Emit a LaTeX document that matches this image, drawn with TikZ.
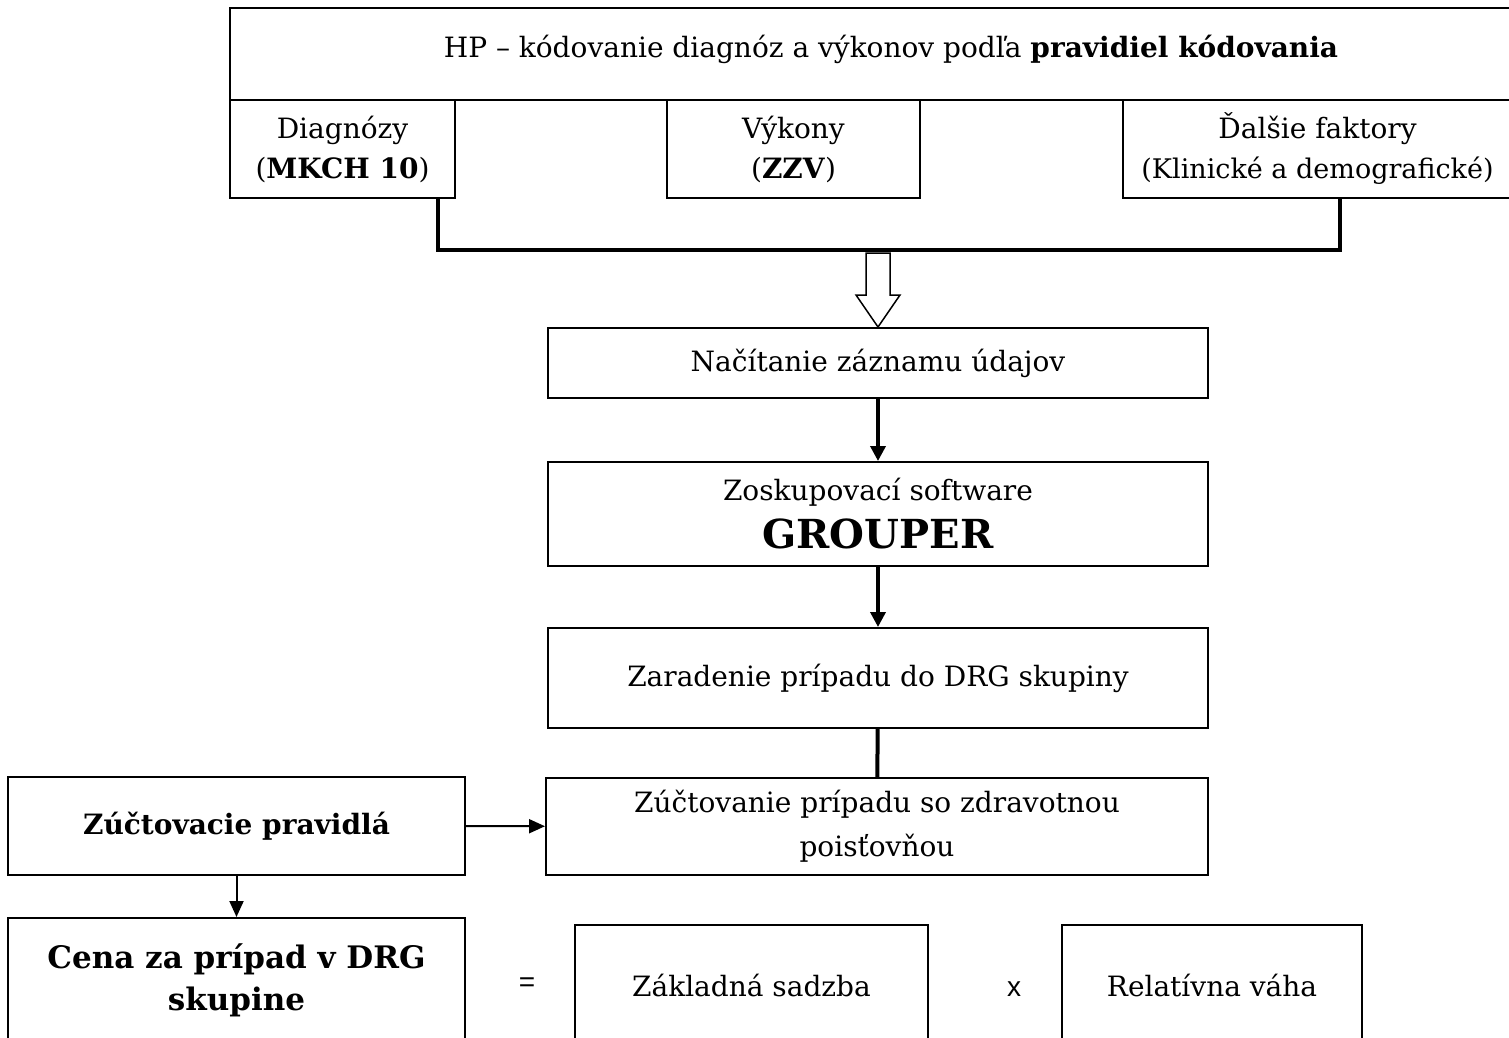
\documentclass[tikz,border=0pt]{standalone}
\usepackage{fontspec}
\setmainfont{DejaVu Serif}
\setsansfont{Liberation Sans}
\usetikzlibrary{arrows.meta,calc}
\newcommand{\fs}[2]{\fontsize{#1}{#2}\selectfont}
\tikzset{
  box/.style={draw, line width=2pt, inner sep=0pt, align=center, font=\fs{28}{36}},
  conn/.style={line width=3.5pt, -{Triangle[length=15pt,width=15pt]}},
  thinconn/.style={line width=2pt, -{Triangle[length=16pt,width=14pt]}},
  bracket/.style={line width=4pt},
  sym/.style={font=\sffamily\fs{28}{30}},
}
\begin{document}
\begin{tikzpicture}[x=1pt,y=-1pt]
\useasboundingbox (0,0) rectangle (1509,1038);
\node[box, minimum width=1322pt, minimum height=92pt, text depth=15pt] (top) at (891,54)
  {HP – kódovanie diagnóz a výkonov podľa \textbf{pravidiel kódovania}};
\node[box, minimum width=225pt, minimum height=98pt] (diag) at (342.5,149)
  {Diagnózy\\[4pt](\textbf{MKCH 10})};
\node[box, minimum width=253pt, minimum height=98pt] (vyk) at (793.5,149)
  {Výkony\\[4pt](\textbf{ZZV})};
\node[box, minimum width=389pt, minimum height=98pt] (dal) at (1317.5,149)
  {Ďalšie faktory\\[4pt]{\fs{27}{30}(Klinické a demografické)}};
\node[box, minimum width=660pt, minimum height=70pt] (nac) at (878,363)
  {Načítanie záznamu údajov};
\node[box, minimum width=660pt, minimum height=104pt] (grp) at (878,514)
  {Zoskupovací software\\[12pt]{\fs{40}{44}\textbf{GROUPER}}};
\node[box, minimum width=660pt, minimum height=100pt] (zar) at (878,678)
  {Zaradenie prípadu do DRG skupiny};
\node[box, minimum width=662pt, minimum height=97pt] (zuc) at (877,826.5)
  {Zúčtovanie prípadu so zdravotnou\\[8pt]poisťovňou};
\node[box, minimum width=457pt, minimum height=98pt] (prav) at (236.5,826)
  {\textbf{Zúčtovacie pravidlá}};
\node[box, minimum width=457pt, minimum height=124pt, font=\fs{31}{38}] (cena) at (236.5,980)
  {\textbf{Cena za prípad v DRG}\\[4pt]\textbf{skupine}};
\node[box, minimum width=353pt, minimum height=120pt] (zakl) at (751.5,985)
  {Základná sadzba};
\node[box, minimum width=300pt, minimum height=120pt] (rel) at (1212,985)
  {Relatívna váha};
\node[sym] (eq) at (527,985) {=};
\node[sym] (times) at (1014,989) {x};
% bracket
\coordinate (bmid) at (878,250);
\draw[bracket] ($(diag.south)+(95.5,0)$) |- (bmid) -| ($(dal.south)+(22.5,0)$);
% hollow arrow
\draw[line width=1.5pt, fill=white] (866,253) -- (890,253) -- (890,295) -- (900,295)
  -- (nac.north) -- (856,295) -- (866,295) -- cycle;
\draw[conn] (nac) -- (grp);
\draw[conn] (grp) -- (zar);
\draw[bracket] (zar) -- (zuc);
\draw[thinconn] (prav) -- (zuc);
\draw[thinconn] (prav) -- (cena);
\end{tikzpicture}
\end{document}
